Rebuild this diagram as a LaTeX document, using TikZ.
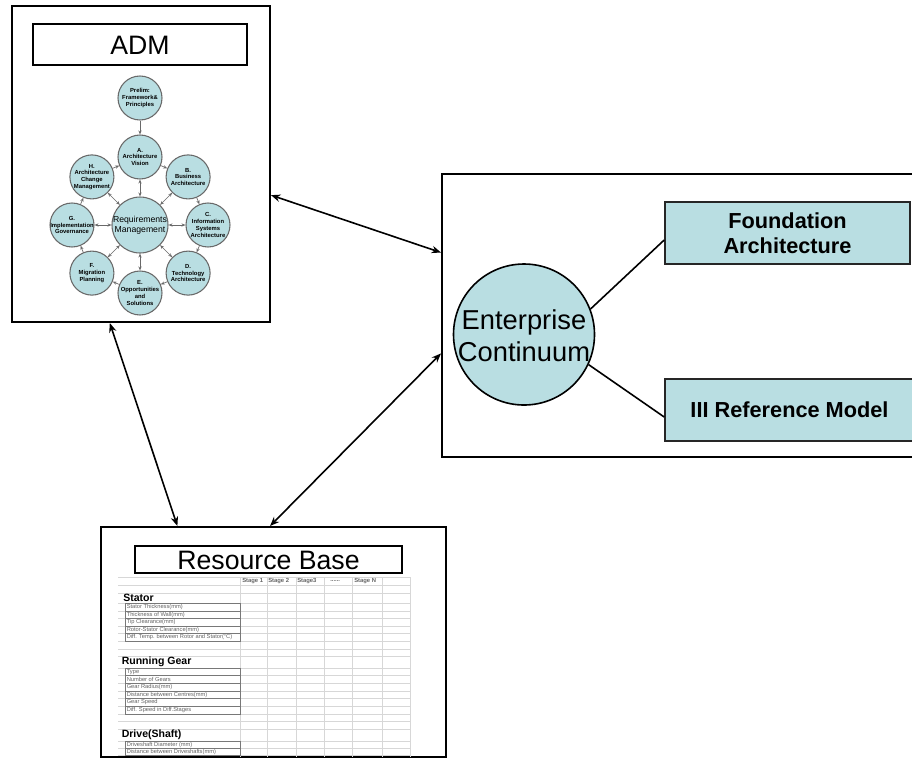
\documentclass[tikz,border=0pt]{standalone}
\usepackage{fontspec}
\setmainfont{Liberation Sans}
\usetikzlibrary{arrows.meta,calc}

\definecolor{cellfill}{RGB}{185,222,226}
\definecolor{ringline}{RGB}{105,105,105}
\definecolor{gridgray}{RGB}{215,215,215}
\definecolor{labelgray}{RGB}{100,100,100}
\definecolor{boxgray}{RGB}{120,120,120}
\newdimen\pxu \pxu=0.75pt

\tikzset{
  frame/.style={draw=black, line width=1.5pt, rectangle, inner sep=0pt},
  titlebox/.style={draw=black, line width=1.5pt, rectangle, inner sep=0pt,
    text height=14.5pt, text depth=0pt, font=\fontsize{20}{24}\selectfont},
  bigarrow/.style={line width=1.2pt, {Stealth[length=7pt,width=5.5pt]}-{Stealth[length=7pt,width=5.5pt]}},
  tealbox/.style={draw=black!85, line width=1.2pt, fill=cellfill, rectangle, inner sep=0pt,
    align=center, font=\bfseries\fontsize{16.3}{18.8}\selectfont},
  link/.style={draw=black, line width=1.2pt},
  phase/.style={circle, draw=ringline, line width=0.8pt, fill=cellfill, minimum size=44\pxu, inner sep=0pt},
  phasetext/.style={inner sep=0pt, align=center, font=\bfseries\fontsize{4.4}{5.1}\selectfont},
  ringarrow/.style={draw=ringline, line width=0.5pt, -{Stealth[length=3pt,width=2.4pt]}},
  spoke/.style={draw=ringline, line width=0.5pt, {Stealth[length=3pt,width=2.4pt]}-{Stealth[length=3pt,width=2.4pt]}},
  grid line/.style={draw=gridgray, line width=0.5pt},
  labelbox/.style={draw=boxgray, line width=0.6pt},
  rowlabel/.style={anchor=west, inner sep=0pt, text=labelgray, font=\fontsize{4.3}{5}\selectfont},
  section/.style={anchor=west, inner sep=0pt, font=\bfseries\fontsize{7.9}{9}\selectfont},
  stagehead/.style={anchor=west, inner sep=0pt, text=labelgray, font=\bfseries\fontsize{4.4}{5}\selectfont},
}

\begin{document}
\begin{tikzpicture}[x=0.75pt,y=-0.75pt]
\useasboundingbox (0,0) rectangle (912,758);
\clip (0,0) rectangle (912,758);
\fill[white] (0,0) rectangle (912,758);

% ---------------- ADM panel ----------------
\node[frame, minimum width=258\pxu, minimum height=316\pxu] (adm) at (141,164) {};
\node[titlebox, minimum width=214\pxu, minimum height=41\pxu] (admtitle) at (140,44.5) {ADM};

% phase circles of the cycle
\node[phase] (prelim) at (140,98) {};
\node[phase, minimum size=56\pxu] (req) at (140,225) {};
\node[phase] (pA) at (140,157) {};
\node[phase] (pB) at (188.1,176.9) {};
\node[phase] (pC) at (208,225) {};
\node[phase] (pD) at (188.1,273.1) {};
\node[phase] (pE) at (140,293) {};
\node[phase] (pF) at (91.9,273.1) {};
\node[phase] (pG) at (72,225) {};
\node[phase] (pH) at (91.9,176.9) {};

\node[phasetext] (prelimt) at (prelim) {Prelim:\\Framework\&\\Principles};
\node[phasetext, font=\fontsize{6.5}{7.6}\selectfont] (reqt) at (req) {Requirements\\Management};
\node[phasetext] (pAt) at (pA) {A.\\Architecture\\Vision};
\node[phasetext] (pBt) at (pB) {B.\\Business\\Architecture};
\node[phasetext] (pCt) at (pC) {C.\\Information\\Systems\\Architecture};
\node[phasetext] (pDt) at (pD) {D.\\Technology\\Architecture};
\node[phasetext] (pEt) at (pE) {E.\\Opportunities\\and\\Solutions};
\node[phasetext] (pFt) at (pF) {F.\\Migration\\Planning};
\node[phasetext] (pGt) at (pG) {G.\\Implementation\\Governance};
\node[phasetext] (pHt) at (pH) {H.\\Architecture\\Change\\Management};

\draw[ringarrow] (prelim) -- (pA);
\foreach \a/\b in {pA/pB,pB/pC,pC/pD,pD/pE,pE/pF,pF/pG,pG/pH,pH/pA}
  \draw[ringarrow] (\a) -- (\b);
\foreach \p in {pA,pB,pC,pD,pE,pF,pG,pH}
  \draw[spoke] (req) -- (\p);

% ---------------- Enterprise Continuum panel ----------------
\node[frame, minimum width=558\pxu, minimum height=283\pxu] (cont) at (721,315.5) {};
\node[circle, draw=black, line width=1.2pt, fill=cellfill, minimum size=141\pxu, inner sep=0pt] (ec) at (524,334.5) {};
\node[inner sep=0pt, align=center, font=\fontsize{20.5}{24}\selectfont] (ect) at (524,336) {Enterprise\\Continuum};

\node[tealbox, minimum width=245\pxu, minimum height=62\pxu] (fa) at (787.5,233) {Foundation\\Architecture};
\node[tealbox, minimum width=249\pxu, minimum height=62\pxu] (trm) at (789.5,410) {III Reference Model};

\draw[link] (ec.21) -- ($(fa.north west)!0.61!(fa.south west)$);
\draw[link] (ec.-25) -- ($(trm.north west)!0.61!(trm.south west)$);

% ---------------- Resource Base panel ----------------
\node[frame, minimum width=345\pxu, minimum height=230\pxu] (res) at (273.5,642) {};
\node[titlebox, minimum width=267\pxu, minimum height=27\pxu] (restitle) at (268.5,559.5) {Resource Base};

% spreadsheet grid
\foreach \y in {577,585,593,603.3,610.9,618.5,626.1,633.7,641.3,648.9,656.5,668,675.67,683.33,691,698.67,706.33,714,721.7,729.3,741,748,755}
  \draw[grid line] (118,\y) -- (410,\y);
\foreach \x in {240,267,296,324,352,382,410}
  \draw[grid line] (\x,577) -- (\x,757);

% column headings
\node[stagehead] (s1) at (242,581) {Stage 1};
\node[stagehead] (s2) at (268,581) {Stage 2};
\node[stagehead] (s3) at (297,581) {Stage3};
\node[stagehead] (sdots) at (330,581) {......};
\node[stagehead] (sn) at (354,581) {Stage N};

% Stator block
\node[section] (secstator) at (123,598) {Stator};
\foreach \t [count=\i from 0] in {Stator Thickness(mm), Thickness of Wall(mm), Tip Clearance(mm),
    Rotor-Stator Clearance(mm), Diff. Temp. between Rotor and Stator(°C)} {
  \draw[labelbox] (125,603.3+7.6*\i) rectangle (240,610.9+7.6*\i);
  \node[rowlabel] (stator\i) at (126.5,607.1+7.6*\i) {\t};
}

% Running gear block
\node[section] (secgear) at (121.5,662) {Running Gear};
\foreach \t [count=\i from 0] in {Type, Number of Gears, Gear Radius(mm),
    Distance between Centres(mm), Gear Speed, Diff. Speed in Diff.Stages} {
  \draw[labelbox] (125,668+7.667*\i) rectangle (240,675.667+7.667*\i);
  \node[rowlabel] (gear\i) at (126.5,671.83+7.667*\i) {\t};
}

% Drive shaft block
\node[section] (secshaft) at (121.5,735) {Drive(Shaft)};
\foreach \t [count=\i from 0] in {Driveshaft Diameter (mm), Distance between Driveshafts(mm)} {
  \draw[labelbox] (125,741+7*\i) rectangle (240,748+7*\i);
  \node[rowlabel] (shaft\i) at (126.5,744.5+7*\i) {\t};
}

% ---------------- links between panels ----------------
\draw[bigarrow] ($(adm.north east)!0.598!(adm.south east)$) -- ($(cont.north west)!0.279!(cont.south west)$);
\draw[bigarrow] ($(cont.north west)!0.633!(cont.south west)$) -- ($(res.north west)!0.49!(res.north east)$);
\draw[bigarrow] ($(adm.south west)!0.38!(adm.south east)$) -- ($(res.north west)!0.223!(res.north east)$);
\end{tikzpicture}
\end{document}
